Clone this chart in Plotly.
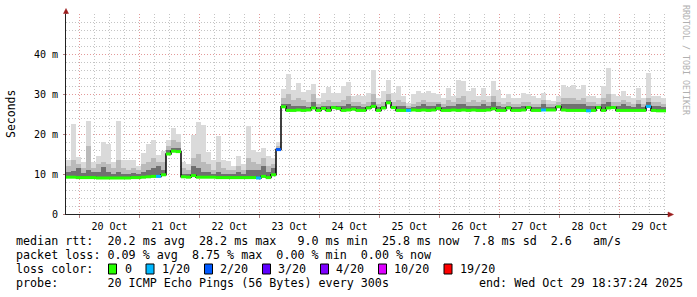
import plotly.graph_objects as go
import pandas as pd

# ---------------- data ----------------
range_start = "2025-10-19 18:37:24"
range_end = "2025-10-29 18:37:24"
bucket_hours = 2

median_ms = [
    9.2, 9.2, 9.1, 9.1, 9.1, 9.1, 9.0, 9.0, 9.0, 9.0,
    9.0, 9.0, 9.0, 9.1, 9.1, 9.2, 9.3, 9.4, 9.4, 9.8,
    15.0, 15.7, 15.6, 9.3, 9.2, 9.6, 9.2, 9.2, 9.2, 9.2,
    9.1, 9.1, 9.1, 9.1, 9.1, 9.1, 9.1, 9.1, 9.0, 9.4,
    9.1, 9.8, 16.1, 26.8, 25.9, 25.9, 26.0, 25.9, 26.0, 26.5,
    25.9, 26.4, 25.9, 26.6, 26.4, 25.9, 26.0, 26.2, 25.9, 25.9,
    26.5, 26.9, 25.9, 26.5, 27.8, 26.6, 25.9, 25.9, 25.9, 26.0,
    25.9, 26.0, 25.9, 26.0, 26.4, 25.9, 25.9, 26.0, 25.9, 26.0,
    25.9, 26.0, 25.9, 25.9, 26.0, 26.3, 25.9, 25.9, 26.5, 25.9,
    25.9, 26.0, 26.6, 25.9, 25.9, 26.0, 26.0, 26.0, 26.8, 26.0,
    25.9, 25.9, 25.9, 25.9, 25.8, 25.9, 26.6, 25.9, 26.5, 26.6,
    25.9, 25.9, 25.9, 25.9, 25.9, 25.9, 26.9, 25.9, 25.8, 25.8,
]
smoke_max_ms = [
    13.6, 22.4, 14.3, 13.0, 23.2, 12.9, 14.5, 18.0, 17.6, 13.0,
    23.2, 13.6, 13.6, 13.6, 12.0, 15.2, 17.6, 18.5, 14.7, 15.7,
    18.5, 21.4, 20.0, 13.0, 12.5, 19.8, 22.9, 22.2, 15.6, 13.6,
    19.5, 13.6, 13.3, 12.0, 14.6, 12.5, 22.1, 16.1, 15.5, 16.5,
    14.4, 14.0, 18.0, 31.3, 34.9, 31.1, 32.8, 30.5, 30.9, 32.5,
    29.0, 30.3, 31.8, 30.3, 30.3, 32.0, 33.0, 29.5, 29.8, 29.5,
    30.3, 36.1, 29.0, 30.7, 33.6, 30.2, 32.0, 29.5, 27.8, 29.9,
    30.7, 30.3, 30.7, 30.3, 29.9, 29.0, 31.6, 29.5, 33.6, 33.2,
    30.7, 31.6, 29.5, 31.6, 29.5, 33.2, 30.9, 29.0, 29.9, 29.1,
    29.0, 30.3, 29.9, 29.5, 29.0, 30.3, 28.5, 28.2, 29.5, 32.2,
    31.8, 32.2, 31.2, 32.3, 29.5, 29.5, 29.0, 32.0, 36.4, 29.9,
    29.5, 30.7, 29.5, 29.0, 31.6, 29.0, 35.2, 29.5, 29.5, 29.0,
]
smoke_mid_ms = [
    12.0, 13.5, 12.5, 11.5, 17.0, 11.5, 12.5, 13.0, 12.5, 11.5,
    13.6, 11.5, 11.0, 11.5, 11.0, 12.5, 13.0, 14.0, 13.0, 13.0,
    17.0, 18.5, 18.0, 11.5, 11.0, 14.0, 15.0, 13.0, 12.5, 11.0,
    13.0, 11.5, 11.0, 11.0, 12.0, 11.0, 14.0, 13.0, 12.5, 14.0,
    12.0, 12.5, 17.0, 29.0, 30.0, 28.5, 29.0, 28.5, 28.0, 30.0,
    27.5, 28.0, 28.5, 28.0, 28.0, 28.5, 29.5, 28.0, 28.0, 27.5,
    28.0, 30.0, 27.5, 28.0, 30.0, 28.0, 28.5, 28.0, 27.0, 27.5,
    28.0, 28.5, 28.0, 28.0, 28.0, 27.5, 28.5, 28.0, 29.0, 29.5,
    28.0, 28.5, 28.0, 28.5, 28.0, 29.5, 28.0, 27.5, 28.0, 27.5,
    27.5, 28.0, 28.0, 27.5, 27.5, 28.5, 27.5, 27.5, 28.0, 29.0,
    29.0, 29.0, 28.5, 29.0, 28.0, 28.0, 27.5, 29.0, 30.0, 28.0,
    28.0, 28.5, 28.0, 27.5, 28.5, 27.5, 29.0, 28.0, 28.0, 27.5,
]
smoke_dark_ms = [
    10.5, 10.8, 11.5, 10.2, 11.0, 10.5, 10.5, 11.8, 10.5, 10.0,
    10.5, 10.0, 10.0, 10.2, 10.0, 10.5, 11.0, 11.5, 12.0, 11.0,
    16.0, 16.5, 16.5, 10.0, 10.0, 12.0, 11.5, 10.5, 10.5, 10.0,
    10.5, 10.0, 10.0, 10.0, 10.5, 10.0, 11.0, 11.0, 11.0, 12.0,
    10.5, 11.5, 16.5, 27.5, 27.5, 27.0, 27.0, 27.0, 26.8, 28.0,
    26.8, 27.0, 27.0, 26.8, 27.0, 27.0, 27.5, 27.0, 27.0, 26.8,
    27.0, 28.0, 26.8, 27.0, 28.5, 27.0, 27.0, 27.0, 26.5, 26.8,
    27.0, 27.5, 27.0, 27.0, 27.5, 26.8, 27.0, 27.0, 27.5, 27.5,
    27.0, 27.0, 27.0, 27.5, 27.0, 28.0, 27.0, 26.8, 27.0, 26.8,
    26.8, 27.0, 27.0, 26.8, 26.8, 27.5, 26.8, 26.8, 27.0, 27.5,
    27.5, 27.5, 27.5, 27.5, 27.0, 27.0, 26.8, 27.5, 28.0, 27.0,
    27.0, 27.5, 27.0, 26.8, 27.5, 26.8, 28.0, 27.0, 27.0, 26.8,
]
loss_bucket = [18, 38, 42, 68, 95, 104, 116]
loss_of_20 = [1, 1, 2, 1, 1, 1, 1]

y_tick_vals = [0, 10, 20, 30, 40]
y_tick_text = ["0", "10 m", "20 m", "30 m", "40 m"]

loss_levels = [0, 1, 2, 3, 4, 10, 19]
loss_labels = ["0", "1/20", "2/20", "3/20", "4/20", "10/20", "19/20"]
loss_colors = ["#26ff00", "#00b8ff", "#0059ff", "#5e00ff", "#7e00ff", "#dd00ff", "#ff0000"]

stats_line_1 = "median rtt:  20.2 ms avg  28.2 ms max   9.0 ms min  25.8 ms now  7.8 ms sd  2.6   am/s"
stats_line_2 = "packet loss: 0.09 % avg  8.75 % max  0.00 % min  0.00 % now"
stats_line_3 = "loss color:"
stats_line_4 = "probe:       20 ICMP Echo Pings (56 Bytes) every 300s"
end_text = "end: Wed Oct 29 18:37:24 2025"

# ---------------- styling helpers ----------------
W, H = 697, 297
PL, PR, PT, PB = 66, 666, 14, 214   # plot area in pixels


def px(x):
    return (x - PL) / (PR - PL)


def py(y):
    return (PB - y) / (PB - PT)


MONO = "DejaVu Sans Mono"
MAJOR = "#e39a9a"
MINOR = "#c4c4c4"
DOTS = "1px,2px"

n = len(median_ms)
starts = pd.date_range(range_start, periods=n, freq=f"{bucket_hours}h")
step = pd.Timedelta(hours=bucket_hours)
centers = starts + step / 2
ends = starts + step
bucket_ms = bucket_hours * 3600 * 1000

fig = go.Figure()

# smoke layers
for top, color in [(smoke_max_ms, "#dadada"), (smoke_mid_ms, "#bababa"), (smoke_dark_ms, "#707070")]:
    fig.add_trace(go.Bar(
        x=centers, y=[t - m for t, m in zip(top, median_ms)], base=median_ms,
        width=bucket_ms, marker=dict(color=color, line=dict(width=0)),
        hoverinfo="skip", showlegend=False,
    ))

# median step line (black connectors)
fig.add_trace(go.Scatter(
    x=list(starts) + [ends[-1]], y=median_ms + [median_ms[-1]],
    mode="lines", line=dict(color="#000000", width=1.5, shape="hv"),
    hoverinfo="skip", showlegend=False,
))

# colored median segments by packet loss
loss_count = [0] * n
for i, c in zip(loss_bucket, loss_of_20):
    loss_count[i] = c


def level_index(c):
    idx = 0
    for j, lv in enumerate(loss_levels):
        if c >= lv:
            idx = j
    return idx


for j, color in enumerate(loss_colors):
    xs, ys = [], []
    for i in range(n):
        if level_index(loss_count[i]) == j:
            xs += [starts[i], ends[i], None]
            ys += [median_ms[i], median_ms[i], None]
    if xs:
        fig.add_trace(go.Scatter(
            x=xs, y=ys, mode="lines", line=dict(color=color, width=3),
            hoverinfo="skip", showlegend=False,
        ))

# ---------------- annotations ----------------
ann = []


def text(x, y, s, size=11.7, xanchor="left", angle=0, color="#000000", yanchor="middle"):
    ann.append(dict(
        x=px(x), y=py(y), xref="paper", yref="paper", text=s.replace(" ", "\u00a0"),
        showarrow=False, xanchor=xanchor, yanchor=yanchor, textangle=angle,
        font=dict(family=MONO, size=size, color=color), borderpad=0,
    ))


text(15, 241, stats_line_1)
text(15, 255, stats_line_2)
text(15, 269, stats_line_3)
text(15, 283, stats_line_4)
text(684, 283, end_text, xanchor="right")
text(11, 114, "Seconds", size=11.5, xanchor="center", angle=-90)
text(686, 60, "RRDTOOL / TOBI OETIKER", size=8.3, xanchor="center", angle=90, color="#b0b0b0")

box_x = [108.5, 146, 204.5, 262.5, 320.5, 378.5, 444]
label_x = [123.5, 160.5, 218.5, 276.5, 334.5, 392.5, 458.5]
shapes = []
for bx, lx, lab, col in zip(box_x, label_x, loss_labels, loss_colors):
    shapes.append(dict(type="rect", xref="paper", yref="paper",
                       x0=px(bx), x1=px(bx + 8), y0=py(274), y1=py(264),
                       fillcolor=col, line=dict(color="#000000", width=1)))
    text(lx, 269, lab)

# axis arrows and extensions
ARROW = "#9b1c1c"
shapes.append(dict(type="line", xref="paper", yref="paper", x0=px(66), x1=px(66),
                   y0=py(PT), y1=py(11), line=dict(color="#222222", width=1)))
shapes.append(dict(type="path", xref="paper", yref="paper",
                   path=f"M {px(63.5)},{py(13.5)} L {px(66)},{py(8.5)} L {px(68.5)},{py(13.5)} Z",
                   fillcolor=ARROW, line=dict(color=ARROW, width=0.5)))
shapes.append(dict(type="line", xref="paper", yref="paper", x0=px(PR), x1=px(669),
                   y0=py(214.5), y1=py(214.5), line=dict(color="#222222", width=1)))
shapes.append(dict(type="path", xref="paper", yref="paper",
                   path=f"M {px(668)},{py(212)} L {px(673.5)},{py(214.5)} L {px(668)},{py(217)} Z",
                   fillcolor=ARROW, line=dict(color=ARROW, width=0.5)))

fig.update_layout(
    template="none",
    width=W, height=H, autosize=False,
    margin=dict(l=PL, r=W - PR, t=PT, b=H - PB, pad=0),
    paper_bgcolor="#ffffff", plot_bgcolor="#ffffff",
    barmode="overlay", bargap=0, showlegend=False,
    font=dict(family=MONO, size=10, color="#000000"),
    annotations=ann, shapes=shapes,
    xaxis=dict(
        type="date", range=[range_start, range_end], automargin=False,
        tick0="2025-10-20", dtick=86400000, tickformat="%d %b", ticklabelmode="period",
        showgrid=True, gridcolor=MAJOR, griddash=DOTS, gridwidth=1,
        minor=dict(tick0="2025-10-20", dtick=21600000, showgrid=True,
                   gridcolor=MINOR, griddash=DOTS, gridwidth=1),
        showline=True, linecolor="#222222", linewidth=1, zeroline=False,
        ticks="outside", ticklen=3, tickcolor="#b08080",
        tickfont=dict(family=MONO, size=10, color="#000000"),
    ),
    yaxis=dict(
        range=[0, 50], automargin=False,
        tickmode="array", tickvals=y_tick_vals, ticktext=y_tick_text,
        showgrid=True, gridcolor=MAJOR, griddash=DOTS, gridwidth=1,
        minor=dict(tickmode="linear", tick0=0, dtick=2, showgrid=True,
                   gridcolor=MINOR, griddash=DOTS, gridwidth=1),
        showline=True, linecolor="#222222", linewidth=1, zeroline=False,
        ticks="outside", ticklen=2, tickcolor="#b08080", ticklabelstandoff=3,
        tickfont=dict(family=MONO, size=10, color="#000000"),
    ),
)

fig.write_html("out.html", config={"displayModeBar": False})
